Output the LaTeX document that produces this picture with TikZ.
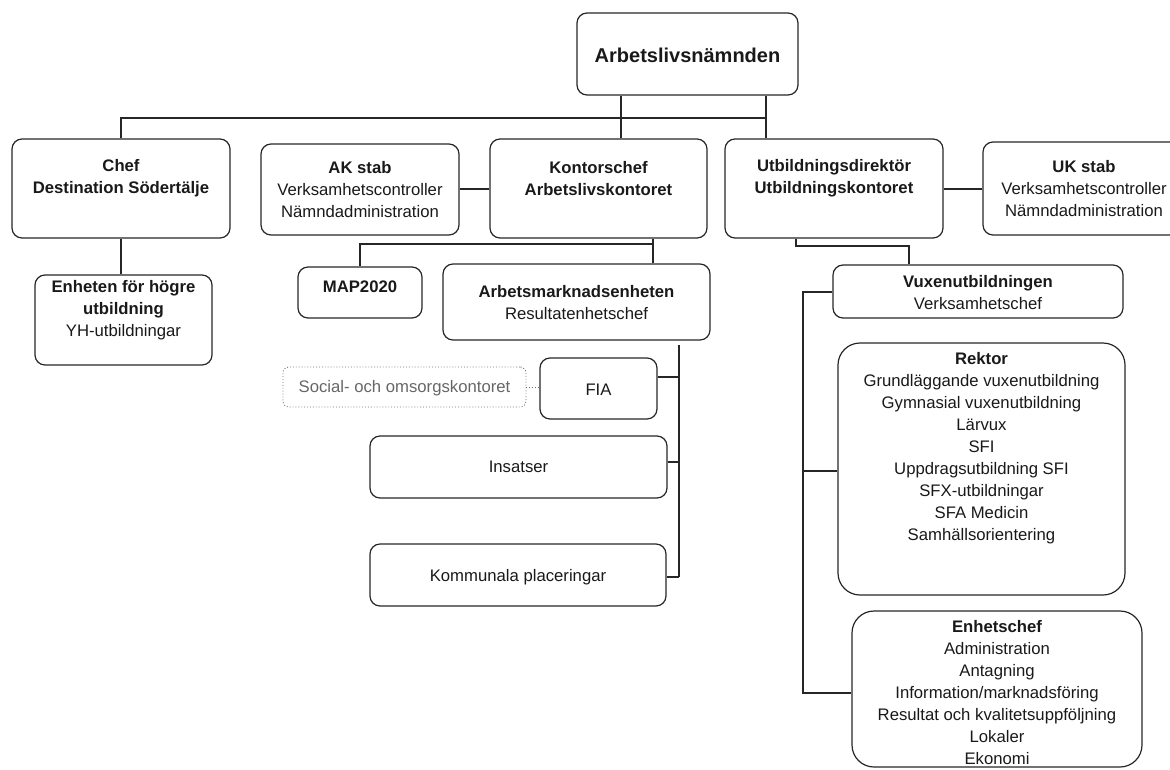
\documentclass[tikz,border=0pt]{standalone}
\usepackage{fontspec}
\setmainfont{Liberation Sans}
\begin{document}
\begin{tikzpicture}[x=1pt,y=-1pt,
  box/.style={draw=black!85,line width=1.2pt,rounded corners=10pt,inner sep=0pt},
  bigbox/.style={box,rounded corners=22pt},
  dotbox/.style={draw=black!55,line width=0.9pt,dotted,rounded corners=6pt,inner sep=0pt},
  txt/.style={font=\fontsize{16.7}{22}\selectfont,align=center,inner sep=0pt,text=black!90},
  gtxt/.style={txt,text=black!60},
  conn/.style={draw=black!85,line width=1.3pt},
  thick conn/.style={draw=black!85,line width=1.7pt},
  dotconn/.style={draw=black!55,line width=0.9pt,dotted}
]
\useasboundingbox (0,0) rectangle (1170,769);

% top
\node[box,minimum width=221pt,minimum height=82pt] (A) at (687.5,54) {};
\node[txt,font=\fontsize{20}{24}\selectfont\bfseries] (Atx) at (687.5,55) {Arbetslivsnämnden};

% row 1
\node[box,minimum width=218pt,minimum height=99pt] (chef) at (121,188.5) {};
\node[txt] (chefTx) at (121,178.5) {\bfseries Chef\\\bfseries Destination Södertälje};

\node[box,minimum width=198pt,minimum height=91pt] (ak) at (360,189.5) {};
\node[txt] (akTx) at (360,190) {\bfseries AK stab\\Verksamhetscontroller\\Nämndadministration};

\node[box,minimum width=217pt,minimum height=99pt] (kon) at (598.5,188.5) {};
\node[txt] (konTx) at (598.5,178.5) {\bfseries Kontorschef\\\bfseries Arbetslivskontoret};

\node[box,minimum width=218pt,minimum height=99pt] (utb) at (834,188.5) {};
\node[txt] (utbTx) at (834,178.5) {\bfseries Utbildningsdirektör\\\bfseries Utbildningskontoret};

\node[box,minimum width=205pt,minimum height=93pt] (uk) at (1085.5,188.5) {};
\node[txt] (ukTx) at (1084,189) {\bfseries UK stab\\Verksamhetscontroller\\Nämndadministration};

% row 2
\node[box,minimum width=177pt,minimum height=90pt] (enh) at (123.5,320) {};
\node[txt] (enhTx) at (123.5,310) {\bfseries Enheten för högre\\\bfseries utbildning\\YH-utbildningar};

\node[box,minimum width=124pt,minimum height=51pt] (map) at (360,292.5) {};
\node[txt,font=\fontsize{16.7}{22}\selectfont\bfseries] (mapTx) at (360,287) {MAP2020};

\node[box,minimum width=267pt,minimum height=76pt] (arb) at (576.5,302) {};
\node[txt] (arbTx) at (576.5,303) {\bfseries Arbetsmarknadsenheten\\Resultatenhetschef};

\node[box,minimum width=290pt,minimum height=53pt] (vux) at (978,291.5) {};
\node[txt] (vuxTx) at (978,292.5) {\bfseries Vuxenutbildningen\\Verksamhetschef};

% under Arbetsmarknadsenheten
\node[box,minimum width=117pt,minimum height=61pt] (fia) at (598.5,388.5) {};
\node[txt] (fiaTx) at (598.5,390) {FIA};

\node[dotbox,minimum width=243pt,minimum height=40pt] (soc) at (404.5,387) {};
\node[gtxt] (socTx) at (404.5,388) {Social- och omsorgskontoret};

\node[box,minimum width=297pt,minimum height=62pt] (ins) at (518.5,467) {};
\node[txt] (insTx) at (518.5,467) {Insatser};

\node[box,minimum width=296pt,minimum height=62pt] (kom) at (518,575) {};
\node[txt] (komTx) at (518,577) {Kommunala placeringar};

% under Vuxenutbildningen
\node[bigbox,minimum width=287pt,minimum height=252pt] (rek) at (981.5,469) {};
\node[txt] (rekTx) at (981.5,448) {\bfseries Rektor\\Grundläggande vuxenutbildning\\Gymnasial vuxenutbildning\\Lärvux\\SFI\\Uppdragsutbildning SFI\\SFX-utbildningar\\SFA Medicin\\Samhällsorientering};

\node[bigbox,minimum width=290pt,minimum height=156pt] (ehc) at (997,689) {};
\node[txt] (ehcTx) at (997,692.5) {\bfseries Enhetschef\\Administration\\Antagning\\Information/marknadsföring\\Resultat och kvalitetsuppföljning\\Lokaler\\Ekonomi};

% helper coordinates
\coordinate (bar) at (121,118);
\coordinate (kdrop) at (653,244);
\coordinate (udrop) at (796,246);
\coordinate (amtop) at (679,345);
\coordinate (vxl) at (803,292);

% connectors: top level
\draw[conn] (A.south -| 621,0) -- (kon.north -| 621,0);
\draw[conn] (A.south -| 766,0) -- (utb.north -| 766,0);
\draw[conn] (chef.north) -- (bar) -- (766,118);
\draw[conn] (ak.east |- 0,189) -- (kon.west |- 0,189);
\draw[conn] (utb.east |- 0,189) -- (uk.west |- 0,189);
\draw[conn] (chef.south) -- (chef.south |- enh.north);

% Kontorschef branches
\draw[conn] (kon.south -| kdrop) -- (arb.north -| kdrop);
\draw[conn] (kdrop) -- (kdrop -| map.north) -- (map.north);

% Arbetsmarknadsenheten bracket
\draw[conn] (amtop) -- (679,577);
\draw[conn] (fia.east |- 0,377) -- (amtop |- 0,377);
\draw[conn] (ins.east |- 0,462) -- (amtop |- 0,462);
\draw[thick conn] (kom.east |- 0,577) -- (amtop |- 0,577);
\draw[dotconn] (soc.east) -- (fia.west |- soc.east);

% Utbildningsdirektör to Vux
\draw[thick conn] (utb.south -| udrop) -- (udrop) -- (udrop -| 909,0) -- (vux.north -| 909,0);

% Vux bracket
\draw[thick conn] (vux.west |- vxl) -- (vxl) -- (803,693) -- (ehc.west |- 0,693);
\draw[thick conn] (803,471) -- (rek.west |- 0,471);
\end{tikzpicture}
\end{document}
